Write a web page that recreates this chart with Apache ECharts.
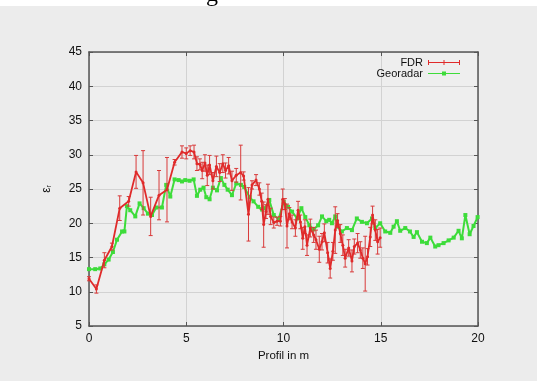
<!DOCTYPE html>
<html>
<head>
<meta charset="utf-8">
<script src="https://cdn.jsdelivr.net/npm/echarts@6/dist/echarts.min.js"></script>
<style>
  html, body { margin: 0; padding: 0; background: #fff; }
  #chart { width: 537px; height: 381px; }
</style>
</head>
<body>
<div id="chart"></div>
<script>
// FDR measurements (profile position in m, epsilon_r, error)
const fdrX = [0.0, 0.38, 0.79, 1.18, 1.58, 2.04, 2.42, 2.78, 3.17, 3.6, 4.01, 4.4, 4.78, 5.0, 5.2, 5.4,
  5.55, 5.7, 5.82, 5.96, 6.08, 6.2, 6.37, 6.55, 6.72, 6.88, 7.02, 7.18, 7.35, 7.57, 7.8, 7.95,
  8.2, 8.38, 8.59, 8.76, 8.88, 8.98, 9.1, 9.2, 9.34, 9.5, 9.67, 9.84, 9.96, 10.07, 10.18, 10.3,
  10.44, 10.61, 10.75, 10.87, 10.99, 11.1, 11.21, 11.38, 11.55, 11.67, 11.84, 11.98, 12.1, 12.27,
  12.4, 12.54, 12.66, 12.78, 12.92, 13.05, 13.17, 13.35, 13.52, 13.64, 13.81, 13.95, 14.08, 14.2,
  14.32, 14.46, 14.58, 14.72, 14.84, 14.97];
const fdrY = [11.9, 10.4, 14.6, 16.6, 22.2, 23.2, 27.5, 25.9, 21.0, 24.1, 24.9, 28.9, 30.4, 30.2, 30.6, 30.4,
  28.7, 28.6, 27.7, 28.8, 27.0, 28.5, 26.2, 28.3, 27.4, 28.7, 27.7, 28.4, 26.2, 27.0, 27.4, 26.9,
  21.3, 25.6, 26.3, 25.0, 23.2, 19.8, 21.7, 23.5, 21.0, 20.1, 20.3, 20.3, 23.5, 22.8, 19.6, 21.4,
  20.2, 19.3, 21.9, 20.2, 17.8, 19.5, 16.8, 19.3, 18.3, 17.6, 16.2, 17.3, 18.6, 15.7,
  13.4, 15.9, 19.0, 20.4, 18.5, 16.8, 14.9, 16.4, 14.5, 16.6, 17.1, 16.1, 14.9, 14.1,
  15.1, 18.0, 21.2, 19.0, 17.3, 17.9];
const fdrErr = [0.3, 0.6, 1.1, 0.5, 1.8, 0.7, 2.4, 4.7, 2.8, 3.6, 4.7, 0.4, 0.9, 0.8, 0.7, 1.0,
  1.0, 0.8, 1.2, 1.2, 1.5, 1.4, 1.2, 1.5, 1.3, 1.3, 1.1, 1.2, 1.4, 1.0, 4.0, 0.6,
  3.9, 0.6, 0.8, 0.9, 1.2, 3.3, 1.0, 2.2, 1.2, 0.8, 0.6, 0.7, 1.5, 0.8, 3.2, 0.9,
  1.0, 1.2, 1.3, 1.0, 1.6, 1.0, 1.5, 1.3, 1.1, 1.4, 1.9, 1.2, 1.3, 1.5,
  1.4, 1.3, 3.4, 1.0, 1.3, 1.5, 1.3, 1.2, 1.6, 1.1, 1.4, 1.2, 1.5, 4.0,
  1.2, 1.4, 1.3, 1.5, 1.8, 1.4];

// Georadar measurements
const geoX = [0.0, 0.32, 0.58, 0.79, 1.01, 1.23, 1.44, 1.7, 1.82, 1.95, 2.12, 2.38, 2.6, 2.81, 3.03, 3.24,
  3.46, 3.75, 3.97, 4.18, 4.4, 4.61, 4.78, 4.95, 5.17, 5.38, 5.55, 5.72, 5.89, 6.03, 6.2, 6.37,
  6.58, 6.78, 6.96, 7.13, 7.35, 7.57, 7.81, 7.98, 8.26, 8.46, 8.7, 8.9, 9.05, 9.27, 9.5, 9.75,
  10.01, 10.23, 10.44, 10.7, 10.92, 11.12, 11.33, 11.55, 11.78, 11.98, 12.2, 12.35, 12.49, 12.66,
  12.78, 13.0, 13.26, 13.52, 13.77, 14.03, 14.29, 14.55, 14.72, 14.97, 15.23, 15.49, 15.66, 15.83,
  16.0, 16.26, 16.5, 16.69, 16.86, 17.12, 17.37, 17.55, 17.8, 17.97, 18.23, 18.49, 18.75, 19.0,
  19.17, 19.35, 19.57, 19.77, 19.98];
const geoY = [13.3, 13.3, 13.4, 14.0, 14.7, 15.8, 17.6, 18.8, 18.8, 22.5, 21.9, 21.0, 22.9, 22.2, 21.4, 21.2,
  22.3, 22.3, 25.6, 23.9, 26.4, 26.3, 26.1, 26.3, 26.2, 26.4, 24.0, 24.9, 25.2, 23.8, 23.5, 25.2,
  24.8, 26.6, 25.6, 24.9, 24.1, 25.8, 25.6, 25.3, 23.8, 23.2, 22.4, 22.0, 22.2, 23.4, 21.2, 20.6,
  23.1, 22.4, 21.7, 20.7, 22.2, 20.9, 19.7, 19.1, 19.7, 21.0, 20.3, 20.5, 20.0, 21.0,
  19.5, 18.8, 19.3, 19.0, 20.7, 20.2, 20.0, 20.7, 19.3, 20.0, 18.8, 18.6, 19.5, 20.3,
  18.9, 19.3, 18.8, 18.0, 18.7, 17.3, 17.1, 17.9, 16.6, 16.8, 17.1, 17.5, 17.9, 18.9,
  17.8, 21.2, 18.4, 19.6, 20.9];

const seriesNames = ['FDR', 'Georadar'];
const xMin = 0, xMax = 20, xStep = 5;
const yMin = 5, yMax = 45, yStep = 5;

const RED = '#e02a2a';
const GREEN = '#3ddc3a';
const AXIS = '#555';

const chart = echarts.init(document.getElementById('chart'));

const baseAxis = {
  axisLine: { show: true, onZero: false, lineStyle: { color: AXIS, width: 1.5 } },
  axisTick: { show: true, inside: true, length: 4, lineStyle: { color: AXIS, width: 1 } },
  splitLine: { show: false },
  axisLabel: { show: false }
};

const option = {
  backgroundColor: '#ececec',
  animation: false,
  textStyle: { fontFamily: 'Liberation Sans, Arial, sans-serif' },
  grid: { left: 89, right: 59, top: 52, bottom: 55, show: true, backgroundColor: '#eeeeee', borderWidth: 0 },
  graphic: [
    { type: 'rect', left: 0, top: 0, shape: { width: 537, height: 6 }, style: { fill: '#ffffff' }, z: -1 },
    { type: 'text', x: 206, y: 7, style: { text: 'g', font: '24px "Liberation Serif", serif', fill: '#000', verticalAlign: 'bottom' } }
  ],
  legend: {
    orient: 'vertical',
    right: 72,
    top: 52,
    align: 'right',
    itemWidth: 32,
    itemHeight: 8,
    itemGap: 0,
    textStyle: { fontSize: 11, color: '#111' },
    data: [
      { name: seriesNames[0], icon: 'path://M0,3.4h32v1.2h-32z M0,1.5h1v5h-1z M15.5,1.5h1v5h-1z M31,1.5h1v5h-1z', itemStyle: { color: RED } },
      { name: seriesNames[1], icon: 'path://M0,3.4h32v1.2h-32z M14,2h4v4h-4z', itemStyle: { color: GREEN } }
    ]
  },
  xAxis: [
    Object.assign({}, baseAxis, {
      type: 'value', min: xMin, max: xMax, interval: xStep, position: 'bottom',
      name: 'Profil in m', nameLocation: 'middle', nameGap: 22,
      nameTextStyle: { fontSize: 11.5, color: '#111' },
      axisLabel: { show: true, fontSize: 12, color: '#111', margin: 7 },
      splitLine: { show: true, lineStyle: { color: '#d2d2d2', width: 1 } }
    }),
    Object.assign({}, baseAxis, { type: 'value', min: xMin, max: xMax, interval: xStep, position: 'top' })
  ],
  yAxis: [
    Object.assign({}, baseAxis, {
      type: 'value', min: yMin, max: yMax, interval: yStep, position: 'left',
      name: '{e|ε}{s|r}', nameLocation: 'middle', nameGap: 36, nameRotate: 90,
      nameTextStyle: { rich: { e: { fontSize: 12, color: '#111' }, s: { fontSize: 7, color: '#111', verticalAlign: 'bottom', padding: [6, 0, 0, 0] } } },
      axisLabel: { show: true, fontSize: 12, color: '#111', margin: 7 },
      splitLine: { show: true, lineStyle: { color: '#d2d2d2', width: 1 } }
    }),
    Object.assign({}, baseAxis, { type: 'value', min: yMin, max: yMax, interval: yStep, position: 'right' })
  ],
  series: [
    {
      name: seriesNames[1],
      type: 'line',
      data: geoX.map((x, i) => [x, geoY[i]]),
      symbol: 'rect',
      symbolSize: 4,
      showAllSymbol: true,
      lineStyle: { color: GREEN, width: 2 },
      itemStyle: { color: GREEN },
      z: 2
    },
    {
      name: seriesNames[0],
      type: 'custom',
      data: fdrX.map((x, i) => [x, fdrY[i] - fdrErr[i], fdrY[i] + fdrErr[i]]),
      encode: { x: 0, y: [1, 2] },
      renderItem: function (params, api) {
        const lo = api.coord([api.value(0), api.value(1)]);
        const hi = api.coord([api.value(0), api.value(2)]);
        const c = 2;
        const st = { stroke: '#d83a3a', lineWidth: 1 };
        return {
          type: 'group',
          children: [
            { type: 'line', shape: { x1: lo[0], y1: lo[1], x2: hi[0], y2: hi[1] }, style: st },
            { type: 'line', shape: { x1: lo[0] - c, y1: lo[1], x2: lo[0] + c, y2: lo[1] }, style: st },
            { type: 'line', shape: { x1: hi[0] - c, y1: hi[1], x2: hi[0] + c, y2: hi[1] }, style: st }
          ]
        };
      },
      z: 3
    },
    {
      name: seriesNames[0],
      type: 'line',
      data: fdrX.map((x, i) => [x, fdrY[i]]),
      symbol: 'circle',
      symbolSize: 3,
      showAllSymbol: true,
      lineStyle: { color: RED, width: 1.8 },
      itemStyle: { color: RED },
      z: 4
    }
  ]
};

chart.setOption(option);
</script>
</body>
</html>
